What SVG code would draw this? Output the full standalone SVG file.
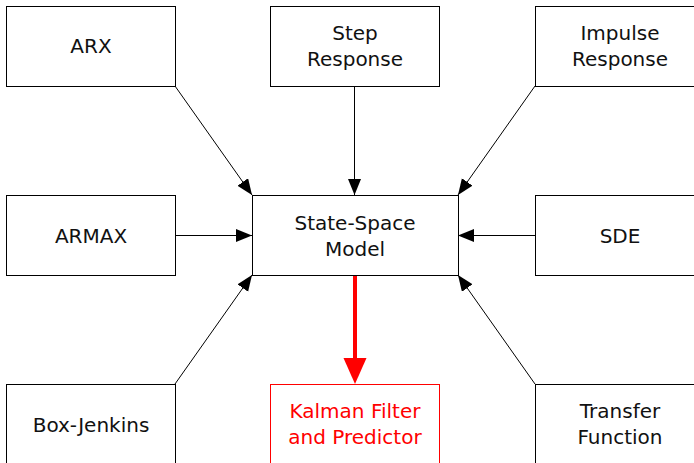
<svg xmlns="http://www.w3.org/2000/svg" width="694" height="463" viewBox="0 0 694 463">
<style>
.box{fill:#fff;stroke:#000;stroke-width:1}
.red{fill:#fff;stroke:#f00;stroke-width:1}
text{font-family:"DejaVu Sans","Liberation Sans",sans-serif;font-size:20px;text-anchor:middle;fill:#111}
.rt{fill:#f00}
.con{stroke:#000;stroke-width:1;fill:none;marker-end:url(#ah)}
.rcon{stroke:#f00;stroke-width:4;fill:none;marker-end:url(#rah)}
</style>
<defs>
<marker id="ah" markerUnits="userSpaceOnUse" markerWidth="17" markerHeight="14" refX="16" refY="6.5" orient="auto" viewBox="0 0 17 14">
<path d="M0,0 L16,6.5 L0,13 z" fill="#000"/>
</marker>
<marker id="rah" markerUnits="userSpaceOnUse" markerWidth="27" markerHeight="24" refX="12" refY="11.5" orient="auto" viewBox="0 0 27 24">
<path d="M0,0 L26,11.5 L0,23 z" fill="#f00"/>
</marker>
</defs>
<rect width="694" height="463" fill="#fff"/>
<g id="connectors">
<line class="con" x1="175" y1="86" x2="252" y2="195"/>
<line class="con" x1="354.5" y1="86" x2="354.5" y2="195"/>
<line class="con" x1="535" y1="86" x2="458" y2="195"/>
<line class="con" x1="175" y1="235.5" x2="252" y2="235.5"/>
<line class="con" x1="535" y1="235.5" x2="458" y2="235.5"/>
<line class="con" x1="175" y1="384" x2="252" y2="275"/>
<line class="con" x1="535" y1="384" x2="458" y2="275"/>
<line class="rcon" x1="355" y1="275" x2="355" y2="370"/>
</g>
<g id="arx"><rect class="box" x="6.5" y="6.5" width="169" height="80"/><text x="91" y="53">ARX</text></g>
<g id="step"><rect class="box" x="270.5" y="6.5" width="169" height="80"/><text x="355" y="40">Step</text><text x="355" y="66">Response</text></g>
<g id="impulse"><rect class="box" x="535.5" y="6.5" width="169" height="80"/><text x="620" y="40">Impulse</text><text x="620" y="66">Response</text></g>
<g id="armax"><rect class="box" x="6.5" y="195.5" width="169" height="80"/><text x="91" y="243">ARMAX</text></g>
<g id="statespace"><rect class="box" x="252.5" y="195.5" width="206" height="80"/><text x="355" y="230">State-Space</text><text x="355" y="256">Model</text></g>
<g id="sde"><rect class="box" x="535.5" y="195.5" width="169" height="80"/><text x="620" y="243">SDE</text></g>
<g id="boxjenkins"><rect class="box" x="6.5" y="384.5" width="169" height="80"/><text x="91" y="432">Box-Jenkins</text></g>
<g id="kalman"><rect class="red" x="270.5" y="384.5" width="169" height="80"/><text class="rt" x="355" y="418">Kalman Filter</text><text class="rt" x="355" y="444">and Predictor</text></g>
<g id="transfer"><rect class="box" x="535.5" y="384.5" width="169" height="80"/><text x="620" y="418">Transfer</text><text x="620" y="444">Function</text></g>
</svg>
